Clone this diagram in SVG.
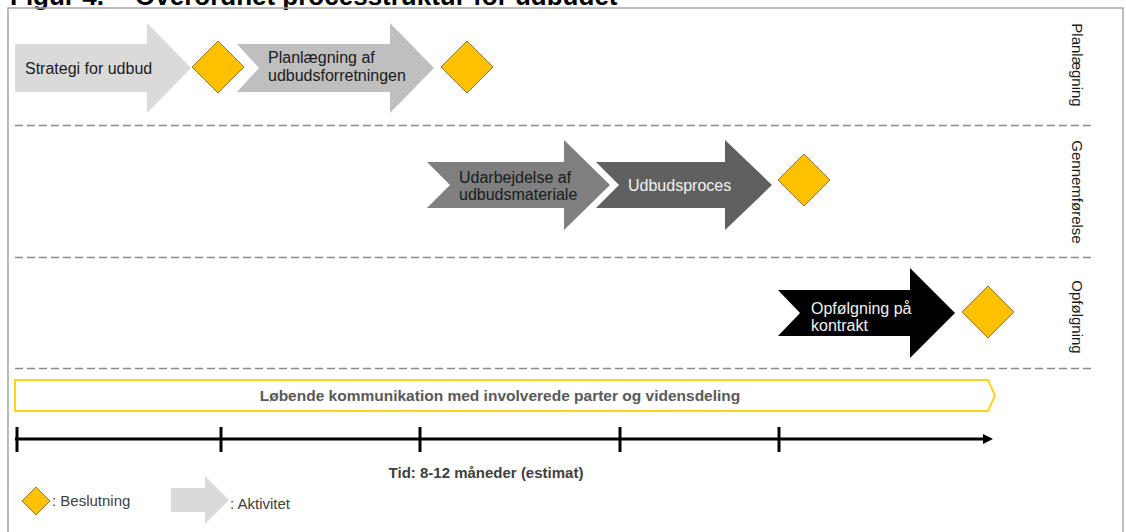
<svg xmlns="http://www.w3.org/2000/svg" width="1126" height="532" viewBox="0 0 1126 532">
<style>
text { font-family: "Liberation Sans", Arial, sans-serif; }
.t { font-size: 16px; fill: #1a1a1a; }
.tw { font-size: 16px; fill: #f2f2f2; }
.dec { fill: #ffc000; stroke: #8a7740; stroke-width: 1; }
.sep { stroke: #8c8c8c; stroke-width: 1.5; stroke-dasharray: 8 4; fill: none; }
.lane { font-size: 15px; fill: #1a1a1a; text-anchor: middle; }
.tick { stroke: #000; stroke-width: 3; }
.leg { font-size: 15px; fill: #404040; }
</style>
<rect width="1126" height="532" fill="#fff"/>
<g id="title">
<text x="10" y="5" font-size="26" font-weight="bold" fill="#000">Figur 4.</text>
<text x="135" y="5" font-size="26" font-weight="bold" fill="#000">Overordnet processtruktur for udbudet</text>
</g>
<path id="frame" d="M8,532 V8 H1123 V532" fill="none" stroke="#a6a6a6" stroke-width="1.5"/>
<g id="separators">
<line class="sep" x1="15" y1="125.5" x2="1093" y2="125.5"/>
<line class="sep" x1="15" y1="257.5" x2="1093" y2="257.5"/>
<line class="sep" x1="15" y1="368.5" x2="1093" y2="368.5"/>
</g>
<g id="lanes">
<text class="lane" transform="translate(1072,65) rotate(90)">Planlægning</text>
<text class="lane" transform="translate(1072,192) rotate(90)">Gennemførelse</text>
<text class="lane" transform="translate(1072,317) rotate(90)">Opfølgning</text>
</g>
<g id="strategi">
<path d="M15,44 H147 V23 L191,68 L147,113 V92 H15 Z" fill="#dadada"/>
<text class="t" x="25" y="74">Strategi for udbud</text>
</g>
<g id="d1"><path class="dec" d="M218,41 L244,67 L218,93 L192,67 Z"/></g>
<g id="planlaegning">
<path d="M237,44 H390 V23 L434,68 L390,113 V92 H237 L259,68 Z" fill="#bfbfbf"/>
<text class="t" x="268" y="63">Planlægning af</text>
<text class="t" x="268" y="81">udbudsforretningen</text>
</g>
<g id="d2"><path class="dec" d="M467,41 L493,67 L467,93 L441,67 Z"/></g>
<g id="udarbejdelse">
<path d="M427,162 H564 V140 L610,185 L564,230 V208 H427 L450,185 Z" fill="#7f7f7f"/>
<text class="t" x="459" y="183">Udarbejdelse af</text>
<text class="t" x="459" y="200">udbudsmateriale</text>
</g>
<g id="udbudsproces">
<path d="M596,162 H725 V140 L772,185 L725,230 V208 H596 L619,185 Z" fill="#606060"/>
<text class="tw" x="628" y="191">Udbudsproces</text>
</g>
<g id="d3"><path class="dec" d="M804,154 L830,180 L804,206 L778,180 Z"/></g>
<g id="opfoelgning">
<path d="M778,290 H910 V268 L955,313 L910,358 V336 H778 L800,313 Z" fill="#000"/>
<text class="tw" x="811" y="314">Opfølgning på</text>
<text class="tw" x="811" y="331">kontrakt</text>
</g>
<g id="d4"><path class="dec" d="M988,286 L1014,312 L988,338 L962,312 Z"/></g>
<g id="kommunikation">
<path d="M15,380 H988 L995,395.5 L988,411 H15 Z" fill="#fff" stroke="#ffd21f" stroke-width="2"/>
<text x="500" y="401" font-size="15.5" font-weight="bold" fill="#595959" text-anchor="middle">Løbende kommunikation med involverede parter og vidensdeling</text>
</g>
<g id="timeline">
<line x1="15" y1="439" x2="986" y2="439" stroke="#000" stroke-width="3"/>
<polygon points="983,434 993,439 983,444" fill="#000"/>
<line class="tick" x1="17" y1="427" x2="17" y2="452"/>
<line class="tick" x1="221" y1="427" x2="221" y2="452"/>
<line class="tick" x1="420" y1="427" x2="420" y2="452"/>
<line class="tick" x1="620" y1="427" x2="620" y2="452"/>
<line class="tick" x1="779" y1="427" x2="779" y2="452"/>
<text x="486" y="478" font-size="15" font-weight="bold" fill="#404040" text-anchor="middle">Tid: 8-12 måneder (estimat)</text>
</g>
<g id="legend">
<path class="dec" d="M36,487 L50,501 L36,515 L22,501 Z"/>
<text class="leg" x="52" y="506">: Beslutning</text>
<path d="M171,488 H205 V476 L229,500 L205,524 V512 H171 Z" fill="#dadada"/>
<text class="leg" x="230" y="509">: Aktivitet</text>
</g>
</svg>
